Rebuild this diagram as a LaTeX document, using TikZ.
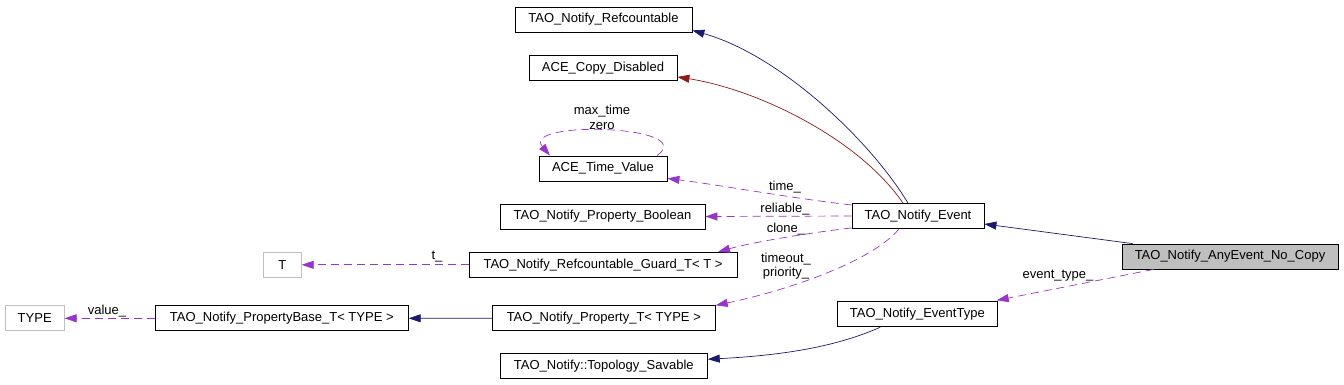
\documentclass[tikz,border=0pt]{standalone}
\usepackage{fontspec}
\setmainfont{Liberation Sans}
\usetikzlibrary{arrows.meta}
\definecolor{inhblue}{HTML}{191970}
\definecolor{privred}{HTML}{8B1A1A}
\definecolor{usepurple}{HTML}{9A32CD}
\definecolor{boxgrey}{HTML}{BFBFBF}
\begin{document}
\begin{tikzpicture}[x=1pt,y=-1pt,font=\fontsize{13}{14.5}\selectfont,
	cls/.style={draw=black,line width=0.8pt,minimum height=25pt,inner sep=0pt},
	extcls/.style={cls,draw=boxgrey},
	inherit/.style={draw=inhblue,line width=0.7pt,-{Triangle[length=12pt,width=8pt]}},
	privinh/.style={inherit,draw=privred},
	uses/.style={draw=usepurple,line width=0.7pt,dash pattern=on 8pt off 5pt,-{Triangle[length=12pt,width=8pt]}},
	lbl/.style={inner sep=0pt,align=center}]
	\useasboundingbox (0,0) rectangle (1344,384);
	% classes
	\node[cls,minimum width=177pt] (refc) at (603.5,19.5) {TAO\_Notify\_Refcountable};
	\node[cls,minimum width=148pt] (copyd) at (603,68) {ACE\_Copy\_Disabled};
	\node[cls,minimum width=128pt] (timev) at (603,168.5) {ACE\_Time\_Value};
	\node[cls,minimum width=205pt] (boolp) at (602.5,216.5) {TAO\_Notify\_Property\_Boolean};
	\node[cls,minimum width=132pt] (event) at (918,216) {TAO\_Notify\_Event};
	\node[cls,fill=boxgrey,minimum width=216pt] (anyev) at (1230,256.5) {TAO\_Notify\_AnyEvent\_No\_Copy};
	\node[cls,minimum width=268pt] (guard) at (603,264.8) {TAO\_Notify\_Refcountable\_Guard\_T< T >};
	\node[extcls,minimum width=38pt] (tnode) at (282.3,264.8) {T};
	\node[extcls,minimum width=59pt] (typen) at (34.7,318.3) {TYPE};
	\node[cls,minimum width=253pt] (pbase) at (281.8,318.3) {TAO\_Notify\_PropertyBase\_T< TYPE >};
	\node[cls,minimum width=223pt] (prop) at (603.8,318.2) {TAO\_Notify\_Property\_T< TYPE >};
	\node[cls,minimum width=160pt] (etype) at (917.3,314.3) {TAO\_Notify\_EventType};
	\node[cls,minimum width=207pt] (topo) at (603.8,366.2) {TAO\_Notify::Topology\_Savable};
	% inheritance
	\draw[inherit] ([xshift=-10pt]event.north) .. controls (870,140) and (780,55) .. ([yshift=2pt]refc.south east);
	\draw[privinh] ([xshift=-15pt]event.north) .. controls (860,140) and (760,90) .. ([yshift=4pt]copyd.south east);
	\draw[inherit] ([xshift=11pt]anyev.north west) -- ([yshift=-8pt]event.east);
	\draw[inherit] ([xshift=-37pt]etype.south) .. controls (840,345) and (790,355) .. ([yshift=7pt]topo.east);
	\draw[inherit] (prop.west) -- (pbase.east);
	% usage
	\draw[uses] ([yshift=11pt]event.west) .. controls (790,198) and (720,185) .. ([yshift=3pt]timev.south east);
	\draw[uses] (event.west) -- (boolp.east);
	\draw[uses] ([yshift=1pt]event.south west) .. controls (800,234) and (750,243) .. ([xshift=115pt]guard.north);
	\draw[uses] ([xshift=-19pt]event.south) .. controls (872,262) and (785,291) .. (prop.north east);
	\draw[uses] ([xshift=32pt]anyev.south west) -- ([xshift=-1pt,yshift=1pt]etype.north east);
	\draw[uses] (pbase.west) -- (typen.east);
	\draw[uses] (guard.west) -- (tnode.east);
	\draw[uses] ([xshift=54pt]timev.north) .. controls (700,125) and (520,120) .. ([xshift=-53pt]timev.north);
	% member names
	\node[lbl] (lbltime) at (785,187) {time\_};
	\node[lbl] (lblrel) at (785,209) {reliable\_};
	\node[lbl] (lblclone) at (786,229) {clone\_};
	\node[lbl] (lblprio) at (786,266) {timeout\_\\priority\_};
	\node[lbl] (lblevt) at (1058,276) {event\_type\_};
	\node[lbl] (lblval) at (107,311) {value\_};
	\node[lbl] (lblt) at (437,257) {t\_};
	\node[lbl] (lblmax) at (602,117.5) {max\_time\\zero};
\end{tikzpicture}
\end{document}
